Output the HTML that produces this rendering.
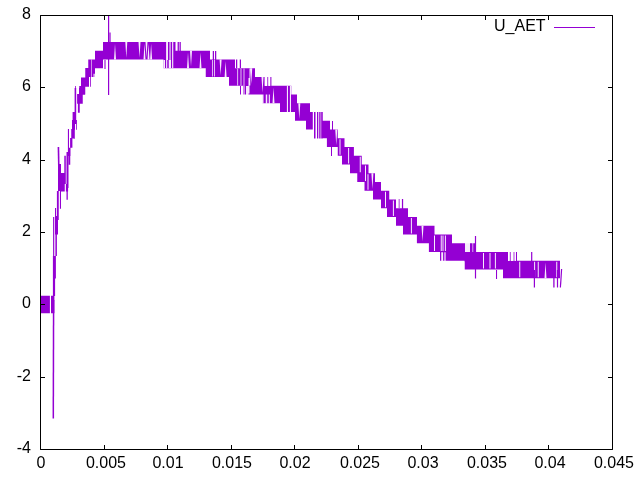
<!DOCTYPE html>
<html><head><meta charset="utf-8"><style>
html,body{margin:0;padding:0;background:#fff;width:640px;height:480px;overflow:hidden;position:relative}
body{font-family:"Liberation Sans",sans-serif;font-size:16px;color:#000}
.yl,.xl,.lg{will-change:transform}
.yl{position:absolute;left:0;width:31px;text-align:right;line-height:18px;height:18px}
.xl{position:absolute;top:454px;width:80px;text-align:center;line-height:18px;height:18px}
.lg{position:absolute;left:494px;top:17px;line-height:18px}
</style></head><body>
<svg width="640" height="480" style="position:absolute;left:0;top:0">
<rect width="640" height="480" fill="#fff"/>
<path d="M40.9 295.75H49.9V313.25H40.9ZM51 295.75H54.4V313.25H51ZM95 50.75H103V68.25H95ZM103 42.0H163.5V59.5H103ZM175.5 50.75H210V68.25H175.5ZM205.75 59.5H235V77.0H205.75ZM229 68.25H255V85.75H229ZM245 77.0H264.75V94.5H245ZM262 85.75H291.25V103.25H262ZM280 94.5H297V112.0H280ZM295 103.25H310V120.75H295ZM306 112.0H312V129.5H306ZM322.75 120.75H330V138.25H322.75ZM326.9 129.5H337.75V147.0H326.9ZM337.75 138.25H344.5V155.75H337.75ZM342 147.0H353.9V164.5H342ZM350 155.75H361.75V173.25H350ZM357.25 164.5H368.5V182.0H357.25ZM364.5 173.25H375V190.75H364.5ZM373 182.0H381V199.5H373ZM381 190.75H389.25V208.25H381ZM387 199.5H396V217.0H387ZM396 208.25H408V225.75H396ZM403 217.0H417V234.5H403ZM416.9 225.75H434.5V243.25H416.9ZM428.9 234.5H452V252.0H428.9ZM440 243.25H475.6V260.75H440ZM464.5 252.0H508V269.5H464.5ZM503 260.75H560V278.25H503ZM52.9 256H55.9V278.5H52.9ZM52.9 278.5H55.1V296H52.9ZM53.1 217H54.25V256H53.1ZM55 216H58V234.4H55ZM55.4 234H56.9V256H55.4ZM56.9 191H58.75V220H56.9ZM58 184H59.1V191H58ZM59.9 184H64.75V191.5H59.9ZM59.9 191.5H61V208.75H59.9ZM65.9 184H68.1V191.5H65.9ZM66.5 191.5H67.8V199.75H66.5ZM55 208H56.1V216H55ZM58 164H61V191H58ZM60.9 173H64.6V191H60.9ZM64.3 155.75H65.8V184H64.3ZM66.5 152H68.5V188H66.5ZM68.75 152H70.25V164.75H68.75ZM72 120H75V129.75H72ZM71.25 129H73.9V138.4H71.25ZM70.1 138H72.4V147.75H70.1ZM67.9 147.75H70.5V156H67.9ZM67.9 129H69V156H67.9ZM76.1 120H76.9V129.75H76.1ZM73.8 120H74.8V138.75H73.8ZM79 88H85V94.75H79ZM77.1 94H82.75V103.75H77.1ZM77.9 103.75H79.75V112.75H77.9ZM74.6 88H76.2V124H74.6ZM72.6 112H75.25V124H72.6ZM88.25 59.5H95V77H88.25ZM85.25 68H89V86.75H85.25ZM81 77.4H85.25V94.5H81ZM79.25 86H81.5V103H79.25ZM75.1 86H75.9V90H75.1ZM90.1 77H90.9V86.75H90.1ZM163.5 42H175.5V68.25H163.5ZM177.6 42H178.9V51H177.6ZM179.5 42H180.8V51H179.5ZM212.75 51H214V60H212.75ZM215 51H216.25V60H215ZM236 59.5H237.25V68H236ZM239.75 59.5H241V68H239.75ZM240 86H241V94.5H240ZM243.5 86H244.5V94.5H243.5ZM267.2 77H268.4V86H267.2ZM270.2 77H271.4V86H270.2ZM314 112H315.5V138.5H314ZM317 112H318.3V138.5H317ZM319.2 112H320.6V138.5H319.2ZM321.2 112H322.75V138.5H321.2ZM312 112H312.8V129.5H312ZM332 121H333V129.5H332ZM398.5 199H399.7V208H398.5ZM402 199H403.2V208H402ZM496 270H497.2V279H496ZM509.6 252H510.8V261H509.6ZM513.4 252H514.6V261H513.4ZM515.9 252H517V261H515.9ZM331 147H332V156H331Z" fill="#9400d3"/>
<path d="M114.00 59.5L116.00 59.5L115.00 43.75ZM125.30 42.0L127.30 42.0L126.30 57.75ZM138.50 42.0L140.50 42.0L139.50 57.75ZM143.50 59.5L145.50 59.5L144.50 43.75ZM145.50 42.0L147.50 42.0L146.50 57.75ZM147.50 59.5L149.50 59.5L148.50 43.75ZM150.10 59.5L152.10 59.5L151.10 43.75ZM187.00 68.25L189.00 68.25L188.00 52.50ZM190.00 50.75L192.00 50.75L191.00 66.50ZM199.50 68.25L201.50 68.25L200.50 52.50ZM219.60 59.5L221.60 59.5L220.60 75.25ZM224.60 77.0L226.60 77.0L225.60 61.25ZM250.25 68.25L252.25 68.25L251.25 84.00ZM248.50 78.0H249.50V93.5H248.50ZM261.50 77.0L263.50 77.0L262.50 92.75ZM272.50 103.25L274.50 103.25L273.50 87.50ZM298.30 103.25L300.30 103.25L299.30 119.00ZM335.25 129.5L337.25 129.5L336.25 145.25ZM339.50 139.25H340.50V154.75H339.50ZM348.10 148.0H349.10V163.5H348.10ZM359.75 156.75H360.75V172.25H359.75ZM365.00 165.5H366.00V181.0H365.00ZM367.50 174.25H368.50V189.75H367.50ZM371.40 173.25L373.40 173.25L372.40 189.00ZM385.00 191.75H386.00V207.25H385.00ZM392.90 200.5H393.90V216.0H392.90ZM410.90 218.0H411.90V233.5H410.90ZM421.50 225.75L423.50 225.75L422.50 241.50ZM434.00 235.5H435.00V251.0H434.00ZM440.75 235.5H441.75V251.0H440.75ZM442.50 235.5H443.50V251.0H442.50ZM444.90 235.5H445.90V251.0H444.90ZM483.00 253.0H484.00V268.5H483.00ZM489.50 253.0H490.50V268.5H489.50ZM494.90 253.0H495.90V268.5H494.90ZM519.25 261.75H520.25V277.25H519.25ZM534.10 261.75H535.10V277.25H534.10ZM537.75 261.75H538.75V277.25H537.75ZM544.50 278.25L546.50 278.25L545.50 262.50ZM556.25 261.75H557.25V277.25H556.25ZM166.1 42H168V60H166.1ZM169.5 42H170.6V60H169.5ZM172.1 42H173.25V60H172.1ZM163.5 60H165V68.25H163.5ZM166.1 60H167.25V68.25H166.1ZM168.75 60H171V68.25H168.75ZM172.1 60H173.25V68.25H172.1ZM91 59.5H91.6V77H91ZM93.5 73.75H94.75V77H93.5ZM212 60H212.75V76.5H212ZM214.1 60H214.9V76.5H214.1ZM237.3 68.5H238.1V85.5H237.3ZM240.6 68.5H241.4V85.5H240.6ZM243.6 68.5H244.4V85.5H243.6ZM249.5 68.5H250.3V85.5H249.5ZM246 86H248.5V95H246ZM264.75 77H267.2V86H264.75ZM268.4 77H270.2V86H268.4ZM262 94.5H263.5V103.75H262ZM265.75 94.5H267.25V103.75H265.75ZM268.75 94.5H269.9V103.75H268.75ZM286.9 85.75H288V112H286.9ZM289.9 85.75H291V112H289.9ZM289.5 112.3H295V120.75H289.5ZM340 156H342V164.75H340ZM364.5 191H365.2V191.75H364.5ZM396 199H398.5V208H396ZM399.7 199H402V208H399.7ZM403.2 199H404V208H403.2ZM460 261.6H464.5V270H460ZM497.2 270H503V279H497.2ZM508 252H509.6V261H508ZM510.8 252H513.4V261H510.8ZM514.6 252H515.9V261H514.6ZM465 243H470V252H465ZM472.5 243H473.2V252H472.5ZM441.25 252.25H443.1V261H441.25ZM444.4 252.25H445.6V261H444.4Z" fill="#fff" fill-opacity="0.92"/>
<g stroke="#9400d3"><line x1="108.6" y1="15.5" x2="108.6" y2="95" stroke-width="1.2"/><line x1="110" y1="32.5" x2="110" y2="45" stroke-width="1.2"/><line x1="105" y1="60" x2="105" y2="69" stroke-width="1.1"/><line x1="53.6" y1="300" x2="53.3" y2="418.5" stroke-width="1.5"/><line x1="58.4" y1="147" x2="59.3" y2="190" stroke-width="1.6"/><line x1="475.5" y1="236" x2="475.5" y2="278.5" stroke-width="1.2"/><line x1="531.7" y1="252" x2="531.7" y2="270" stroke-width="1.2"/><line x1="534.4" y1="270" x2="534.4" y2="287.5" stroke-width="1.2"/><line x1="553.9" y1="270" x2="553.9" y2="287.5" stroke-width="1.3"/><line x1="557.5" y1="270" x2="557.5" y2="287.5" stroke-width="1.2"/><line x1="561.6" y1="269" x2="560.4" y2="287.5" stroke-width="1.2"/><line x1="402.5" y1="199" x2="402.5" y2="210" stroke-width="1.2"/></g>
<path d="M40.5 15.5H612.5V449.5H40.5ZM40.50 449.5v-4.5M40.50 15.5v4.5M104.50 449.5v-4.5M104.50 15.5v4.5M167.50 449.5v-4.5M167.50 15.5v4.5M231.50 449.5v-4.5M231.50 15.5v4.5M294.50 449.5v-4.5M294.50 15.5v4.5M358.50 449.5v-4.5M358.50 15.5v4.5M421.50 449.5v-4.5M421.50 15.5v4.5M485.50 449.5v-4.5M485.50 15.5v4.5M548.50 449.5v-4.5M548.50 15.5v4.5M612.50 449.5v-4.5M612.50 15.5v4.5M40.5 449.50h4.5M612.5 449.50h-4.5M40.5 377.50h4.5M612.5 377.50h-4.5M40.5 304.50h4.5M612.5 304.50h-4.5M40.5 232.50h4.5M612.5 232.50h-4.5M40.5 160.50h4.5M612.5 160.50h-4.5M40.5 87.50h4.5M612.5 87.50h-4.5M40.5 15.50h4.5M612.5 15.50h-4.5" fill="none" stroke="#000" stroke-width="1"/>
<path d="M554 27.5H595" stroke="#9400d3" stroke-width="1"/>
</svg>
<div class="yl" style="top:439px">-4</div><div class="yl" style="top:367px">-2</div><div class="yl" style="top:294px">0</div><div class="yl" style="top:222px">2</div><div class="yl" style="top:150px">4</div><div class="yl" style="top:77px">6</div><div class="yl" style="top:5px">8</div><div class="xl" style="left:1.20px">0</div><div class="xl" style="left:66.36px">0.005</div><div class="xl" style="left:128.31px">0.01</div><div class="xl" style="left:192.47px">0.015</div><div class="xl" style="left:255.42px">0.02</div><div class="xl" style="left:319.88px">0.025</div><div class="xl" style="left:382.53px">0.03</div><div class="xl" style="left:446.69px">0.035</div><div class="xl" style="left:509.64px">0.04</div><div class="xl" style="left:573.80px">0.045</div>
<div class="lg">U_AET</div>
</body></html>
